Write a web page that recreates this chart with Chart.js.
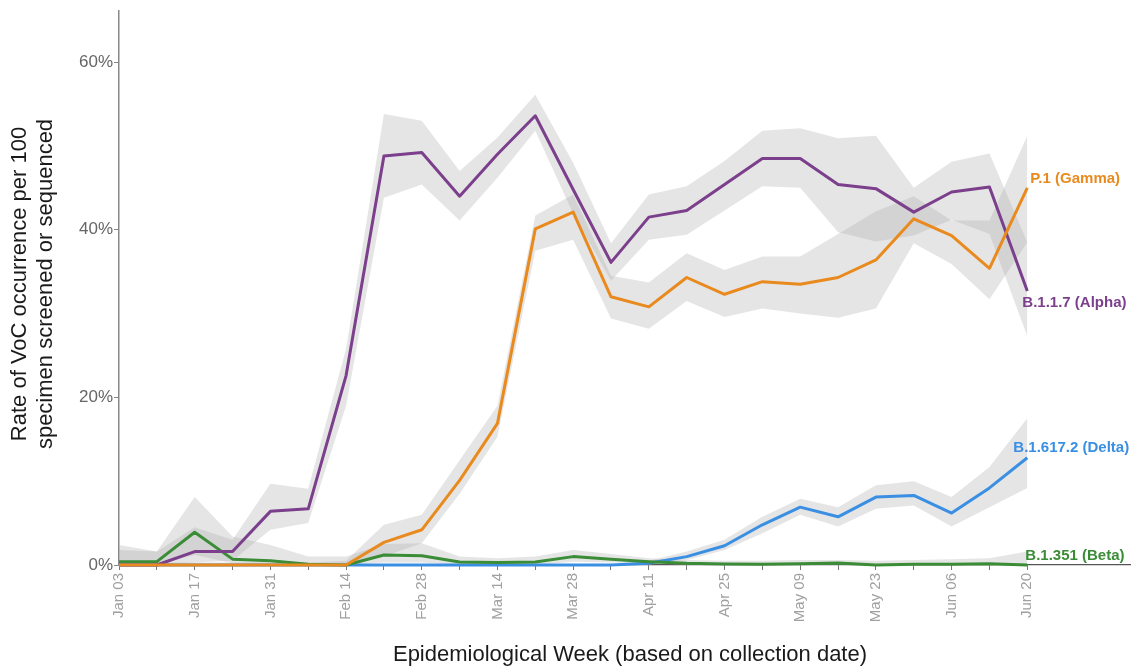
<!DOCTYPE html>
<html>
<head>
<meta charset="utf-8">
<script src="https://cdn.jsdelivr.net/npm/chart.js@4.4.1/dist/chart.umd.min.js"></script>
<style>
  html, body { margin: 0; padding: 0; background: #fff; }
  #wrap { width: 1131px; height: 669px; position: relative; }
</style>
</head>
<body>
<div id="wrap"><canvas id="c" width="1131" height="669"></canvas></div>
<script>
const weeks = ['Jan 03','Jan 10','Jan 17','Jan 24','Jan 31','Feb 07','Feb 14','Feb 21','Feb 28','Mar 07','Mar 14','Mar 21','Mar 28','Apr 04','Apr 11','Apr 18','Apr 25','May 02','May 09','May 16','May 23','May 30','Jun 06','Jun 13','Jun 20'];
const yTicks = [0, 20, 40, 60];

const alpha   = [0, 0, 1.6, 1.6, 6.4, 6.7, 22.6, 48.8, 49.2, 44.0, 49.0, 53.6, 44.8, 36.1, 41.5, 42.3, 45.4, 48.5, 48.5, 45.4, 44.9, 42.1, 44.5, 45.1, 32.7];
const alphaLo = [0, 0, 0.3, 0.5, 4.2, 5.0, 19.0, 43.8, 45.4, 41.1, 46.2, 51.8, 41.9, 33.9, 38.8, 39.4, 42.3, 45.2, 45.0, 39.7, 38.6, 39.3, 41.2, 39.5, 27.3];
const alphaHi = [1.8, 1.6, 4.5, 3.0, 9.7, 9.1, 25.8, 53.8, 53.0, 47.0, 51.0, 56.1, 48.0, 38.4, 44.2, 45.2, 48.2, 51.8, 52.1, 50.9, 51.2, 45.0, 48.1, 49.1, 38.5];

const gamma   = [0, 0, 0, 0, 0, 0, 0, 2.7, 4.2, 10.1, 16.9, 40.1, 42.1, 32.0, 30.8, 34.3, 32.3, 33.8, 33.5, 34.3, 36.4, 41.3, 39.3, 35.4, 45.0];
const gammaLo = [0, 0, 0, 0, 0, 0, 0, 1.0, 2.6, 8.5, 15.3, 37.5, 38.8, 29.4, 28.2, 31.5, 29.6, 30.6, 30.0, 29.5, 30.6, 38.4, 35.9, 31.7, 38.5];
const gammaHi = [0.3, 0.3, 0.3, 0.3, 0.3, 0.3, 0.5, 4.8, 6.0, 12.5, 19.0, 41.7, 44.2, 34.5, 33.7, 37.2, 35.2, 36.8, 36.8, 39.5, 42.2, 44.0, 41.1, 41.1, 51.2];

const delta   = [0, 0, 0, 0, 0, 0, 0, 0, 0, 0, 0, 0, 0, 0, 0.2, 1.0, 2.3, 4.8, 6.9, 5.75, 8.1, 8.3, 6.2, 9.2, 12.8];
const deltaLo = [0, 0, 0, 0, 0, 0, 0, 0, 0, 0, 0, 0, 0, 0, 0, 0.6, 1.8, 3.8, 6.0, 4.6, 6.7, 7.1, 4.6, 6.9, 9.2];
const deltaHi = [0, 0, 0, 0, 0, 0, 0, 0, 0, 0, 0, 0, 0, 0, 0.5, 1.6, 3.0, 5.75, 7.9, 6.9, 9.5, 10.0, 8.1, 11.7, 17.5];

const beta    = [0.4, 0.4, 3.9, 0.7, 0.5, 0.1, 0, 1.2, 1.1, 0.35, 0.3, 0.35, 1.0, 0.7, 0.4, 0.2, 0.12, 0.1, 0.15, 0.25, 0, 0.1, 0.1, 0.15, 0];
const betaLo  = [0, 0, 1.2, 0.2, 0, 0, 0, 0.3, 0.3, 0, 0, 0, 0.4, 0.3, 0.2, 0, 0, 0, 0, 0, 0, 0, 0, 0, 0];
const betaHi  = [2.4, 1.6, 8.1, 3.4, 2.4, 1.0, 1.0, 2.5, 2.6, 1.0, 0.8, 1.0, 1.8, 1.3, 0.8, 0.6, 0.5, 0.5, 0.6, 0.6, 0.5, 0.6, 0.7, 0.8, 1.6];

const variants = [
  { name: 'B.1.617.2 (Delta)', vals: delta, lo: deltaLo, hi: deltaHi, color: '#3a8fe3', dx: -14, dy: -10 },
  { name: 'B.1.351 (Beta)',    vals: beta,  lo: betaLo,  hi: betaHi,  color: '#3a8c37', dx: -2,  dy: -9 },
  { name: 'B.1.1.7 (Alpha)',   vals: alpha, lo: alphaLo, hi: alphaHi, color: '#7b3f8c', dx: -5,  dy: 12 },
  { name: 'P.1 (Gamma)',       vals: gamma, lo: gammaLo, hi: gammaHi, color: '#e98a1e', dx: 3,   dy: -9 }
];

const pts = arr => arr.map((v, i) => ({ x: i, y: v }));
const FONT = "'Liberation Sans', Arial, sans-serif";

const datasets = [];
variants.forEach((v, k) => {
  datasets.push({ label: v.name + ' lo', data: pts(v.lo), borderWidth: 0, pointRadius: 0, fill: false, order: 20, clip: false, tension: 0 });
  datasets.push({ label: v.name + ' hi', data: pts(v.hi), borderWidth: 0, pointRadius: 0, fill: '-1', backgroundColor: 'rgba(175,175,175,0.33)', order: 20, clip: false, tension: 0 });
});
variants.forEach((v, k) => {
  datasets.push({ label: v.name, data: pts(v.vals), borderColor: v.color, borderWidth: 3, pointRadius: 0, fill: false, order: 10 - k, clip: false, tension: 0, borderJoinStyle: 'round', borderCapStyle: 'butt' });
});

const labelPlugin = {
  id: 'labels',
  afterDatasetsDraw(chart) {
    const ctx = chart.ctx, xs = chart.scales.x, ys = chart.scales.y;
    ctx.save();
    ctx.font = 'bold 15px ' + FONT;
    ctx.textAlign = 'left';
    ctx.textBaseline = 'middle';
    variants.forEach(v => {
      const last = v.vals.length - 1;
      const px = xs.getPixelForValue(last), py = ys.getPixelForValue(v.vals[last]);
      ctx.fillStyle = v.color;
      ctx.fillText(v.name, px + v.dx, py + v.dy);
    });
    // axis titles
    ctx.fillStyle = '#1a1a1a';
    ctx.font = '22px ' + FONT;
    ctx.textAlign = 'center';
    ctx.fillText('Epidemiological Week (based on collection date)', 630, 655);
    ctx.translate(33, 284);
    ctx.rotate(-Math.PI / 2);
    ctx.fillText('Rate of VoC occurrence per 100', 0, -13);
    ctx.fillText('specimen screened or sequenced', 0, 13);
    ctx.restore();
  }
};

new Chart(document.getElementById('c'), {
  type: 'line',
  data: { datasets },
  plugins: [labelPlugin],
  options: {
    responsive: false,
    animation: false,
    devicePixelRatio: 1,
    layout: { padding: { top: 10, right: 0, left: 0, bottom: 0 } },
    plugins: { legend: { display: false }, tooltip: { enabled: false } },
    scales: {
      x: {
        type: 'linear',
        min: 0,
        max: 26.74,
        afterBuildTicks: s => { s.ticks = weeks.map((w, i) => ({ value: i })); },
        afterFit: s => { s.height = 104; },
        ticks: {
          autoSkip: false,
          maxRotation: 90,
          minRotation: 90,
          color: '#a0a0a0',
          font: { family: FONT, size: 15 },
          padding: 3,
          callback: (val) => (val % 2 === 0 ? weeks[val] : '')
        },
        grid: { drawOnChartArea: false, drawTicks: true, tickLength: 5, color: '#777' },
        border: { display: true, color: '#555', width: 1.2 }
      },
      y: {
        type: 'linear',
        min: 0,
        max: 66.07,
        afterBuildTicks: s => { s.ticks = yTicks.map(v => ({ value: v })); },
        afterFit: s => { s.width = 119; },
        ticks: {
          color: '#666',
          font: { family: FONT, size: 17 },
          padding: 1,
          callback: v => v + '%'
        },
        grid: { drawOnChartArea: false, drawTicks: true, tickLength: 5, color: '#888' },
        border: { display: true, color: '#888', width: 1.5 }
      }
    }
  }
});
</script>
</body>
</html>
